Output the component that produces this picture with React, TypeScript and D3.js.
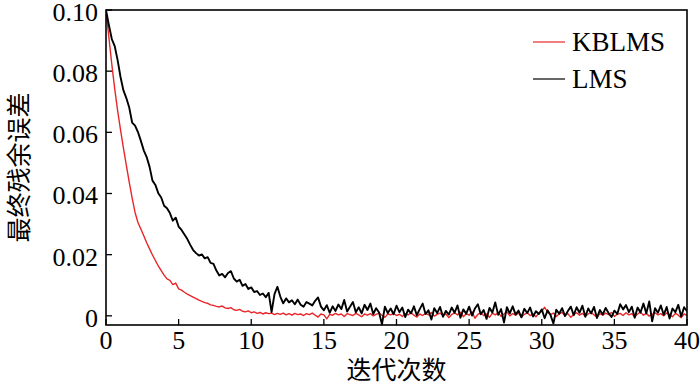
import React from 'react';
import * as d3 from 'd3';

// iteration spacing of the samples (x axis units)
const iterStep = 0.2;

// KBLMS residual error, one value every iterStep
const kblms = [
  0.0997, 0.0910, 0.0822, 0.0742, 0.0671, 0.0608, 0.0548, 0.0492, 0.0437, 0.0385,
  0.0338, 0.0305, 0.0284, 0.0262, 0.0239, 0.0219, 0.0199, 0.0181, 0.0163, 0.0148,
  0.0133, 0.0121, 0.0116, 0.0102, 0.0107, 0.0088, 0.0084, 0.0077, 0.0071, 0.0066,
  0.0061, 0.0056, 0.0051, 0.0047, 0.0043, 0.0041, 0.0036, 0.0034, 0.0031, 0.0029,
  0.0032, 0.0026, 0.0024, 0.0027, 0.0020, 0.0018, 0.0021, 0.0015, 0.0013, 0.0016,
  0.0010, 0.0013, 0.0008, 0.0011, 0.0006, 0.0010, 0.0007, 0.0009, 0.0004, 0.0008,
  0.0005, 0.0009, 0.0003, 0.0007, 0.0002, 0.0008, 0.0004, 0.0006, 0.0001, 0.0007,
  0.0004, 0.0009, 0.0002, -0.0004, 0.0006, 0.0003, -0.0010, 0.0005, 0.0002, 0.0008,
  0.0003, 0.0006, -0.0002, 0.0007, 0.0004, 0.0001, 0.0008, 0.0003, -0.0003, 0.0006,
  0.0002, 0.0007, 0.0000, 0.0005, 0.0009, 0.0002, -0.0005, 0.0006, 0.0003, 0.0008,
  0.0001, 0.0005, -0.0002, 0.0007, 0.0003, 0.0010, 0.0002, -0.0004, 0.0006, 0.0001,
  0.0008, 0.0003, 0.0011, -0.0001, 0.0005, 0.0009, 0.0002, 0.0006, -0.0006, 0.0004,
  0.0010, 0.0003, 0.0012, -0.0003, 0.0007, 0.0002, 0.0013, -0.0008, 0.0005, 0.0010,
  0.0001, 0.0006, -0.0005, 0.0009, 0.0003, 0.0011, -0.0002, 0.0006, 0.0014, 0.0000,
  0.0007, 0.0002, 0.0009, -0.0004, 0.0005, 0.0010, 0.0001, 0.0006, -0.0003, 0.0008,
  0.0015, 0.0028, 0.0012, 0.0004, 0.0009, -0.0002, 0.0006, 0.0011, 0.0001, 0.0007,
  -0.0005, 0.0004, 0.0010, 0.0002, 0.0008, -0.0001, 0.0006, 0.0012, 0.0003, -0.0004,
  0.0007, 0.0002, 0.0009, 0.0004, 0.0011, -0.0002, 0.0005, 0.0008, 0.0001, 0.0010,
  0.0003, 0.0007, -0.0003, 0.0006, 0.0012, 0.0002, 0.0008, -0.0001, 0.0005, 0.0010,
  0.0003, 0.0007, 0.0000, 0.0009, 0.0004, -0.0003, 0.0008, 0.0002, -0.0006, 0.0006,
  0.0001,
];

// LMS residual error, one value every iterStep
const lms = [
  0.1000, 0.0950, 0.0905, 0.0882, 0.0836, 0.0781, 0.0737, 0.0712, 0.0681, 0.0632,
  0.0622, 0.0601, 0.0572, 0.0541, 0.0519, 0.0487, 0.0442, 0.0428, 0.0401, 0.0387,
  0.0360, 0.0352, 0.0336, 0.0311, 0.0321, 0.0292, 0.0281, 0.0266, 0.0251, 0.0232,
  0.0215, 0.0205, 0.0197, 0.0201, 0.0188, 0.0192, 0.0173, 0.0170, 0.0148, 0.0132,
  0.0137, 0.0126, 0.0140, 0.0146, 0.0122, 0.0112, 0.0118, 0.0098, 0.0104, 0.0088,
  0.0093, 0.0078, 0.0081, 0.0068, 0.0073, 0.0061, 0.0075, 0.0012, 0.0071, 0.0095,
  0.0063, 0.0041, 0.0057, 0.0044, 0.0051, 0.0038, 0.0053, 0.0036, 0.0030, 0.0045,
  0.0040, 0.0034, 0.0049, 0.0060, 0.0030, 0.0018, 0.0035, 0.0010, 0.0031, 0.0016,
  0.0037, 0.0022, 0.0052, 0.0014, 0.0030, 0.0045, 0.0012, 0.0028, 0.0008, 0.0036,
  0.0019, 0.0040, 0.0006, 0.0025, 0.0011, -0.0028, 0.0030, 0.0009, 0.0024, 0.0005,
  0.0033, 0.0012, 0.0027, -0.0004, 0.0020, 0.0008, 0.0031, 0.0002, 0.0022, 0.0040,
  0.0006, 0.0018, -0.0012, 0.0025, 0.0009, 0.0029, -0.0003, 0.0016, 0.0004, 0.0027,
  0.0010, 0.0034, -0.0006, 0.0021, 0.0007, 0.0030, 0.0001, 0.0024, 0.0038, 0.0005,
  0.0019, -0.0010, 0.0026, 0.0011, 0.0044, 0.0003, 0.0022, -0.0022, 0.0028, 0.0008,
  0.0031, 0.0004, 0.0017, -0.0005, 0.0023, 0.0009, 0.0027, -0.0002, 0.0015, 0.0006,
  0.0021, -0.0008, 0.0018, 0.0003, -0.0025, 0.0020, 0.0007, 0.0025, -0.0001, 0.0016,
  0.0030, 0.0002, 0.0028, 0.0010, 0.0033, -0.0003, 0.0024, 0.0008, 0.0029, -0.0007,
  0.0019, 0.0004, 0.0026, 0.0009, -0.0004, 0.0017, 0.0006, 0.0038, 0.0021, 0.0035,
  0.0012, 0.0030, -0.0006, 0.0027, 0.0011, 0.0040, 0.0008, 0.0047, -0.0018, 0.0025,
  0.0010, 0.0034, 0.0003, 0.0029, -0.0009, 0.0024, 0.0012, 0.0036, -0.0002, 0.0028,
  0.0015,
];

const xTicks = [0, 5, 10, 15, 20, 25, 30, 35, 40];
const yTicks = [0, 0.02, 0.04, 0.06, 0.08, 0.1];
const yTickLabels = ['0', '0.02', '0.04', '0.06', '0.08', '0.10'];
const seriesNames = ['KBLMS', 'LMS'];
const seriesColors = ['#e8262a', '#000000'];
const xTitle = '迭代次数';
const yTitle = '最终残余误差';

const W = 700;
const H = 387;
const margin = { top: 10, right: 13, bottom: 62, left: 106 };
const serif = "'Liberation Serif', 'Times New Roman', serif";
const cjk = "'Noto Sans CJK SC', sans-serif";

export default function App() {
  const x = d3.scaleLinear().domain([0, 40]).range([margin.left, W - margin.right]);
  const y = d3.scaleLinear().domain([-0.003, 0.1]).range([H - margin.bottom, margin.top]);
  const line = d3.line<number>()
    .x((_, i) => x(i * iterStep))
    .y(d => y(d));

  const x0 = margin.left;
  const x1 = W - margin.right;
  const y0 = H - margin.bottom;
  const y1 = margin.top;

  return (
    <svg width={W} height={H} style={{ position: 'absolute', left: 0, top: 0, background: '#fff' }}>
      <defs>
        <clipPath id="plot">
          <rect x={x0} y={y1} width={x1 - x0} height={y0 - y1} />
        </clipPath>
      </defs>

      <g clipPath="url(#plot)" fill="none" strokeLinejoin="round">
        <path d={line(kblms) || ''} stroke={seriesColors[0]} strokeWidth={1.4} />
        <path d={line(lms) || ''} stroke={seriesColors[1]} strokeWidth={1.9} />
      </g>

      {/* frame */}
      <rect x={x0} y={y1} width={x1 - x0} height={y0 - y1} fill="none" stroke="#000" strokeWidth={1.6} />

      {/* y ticks, inward */}
      {yTicks.map((t, i) => (
        <g key={'y' + i}>
          <line x1={x0} x2={x0 + 6} y1={y(t)} y2={y(t)} stroke="#000" strokeWidth={1.3} />
          <text x={x0 - 8} y={y(t)} dy="0.42em" textAnchor="end" fontFamily={serif} fontSize={26}>
            {yTickLabels[i]}
          </text>
        </g>
      ))}

      {/* x ticks, inward */}
      {xTicks.map(t => (
        <g key={'x' + t}>
          <line x1={x(t)} x2={x(t)} y1={y0} y2={y0 - 6} stroke="#000" strokeWidth={1.3} />
          <text x={x(t)} y={y0 + 24} textAnchor="middle" fontFamily={serif} fontSize={26}>
            {t}
          </text>
        </g>
      ))}

      <text x={(x0 + x1) / 2} y={379} textAnchor="middle" fontFamily={cjk} fontSize={25}>
        {xTitle}
      </text>
      <text
        transform={`translate(17, ${(y0 + y1) / 2}) rotate(-90)`}
        textAnchor="middle"
        dominantBaseline="central"
        fontFamily={cjk}
        fontSize={25}
      >
        {yTitle}
      </text>

      {/* legend */}
      {seriesNames.map((name, i) => (
        <g key={name} transform={`translate(533, ${42 + i * 37})`}>
          <line x1={0} x2={32} y1={0} y2={0} stroke={seriesColors[i]} strokeWidth={1.2} />
          <text x={39} y={0} dy="0.35em" fontFamily={serif} fontSize={27}>
            {name}
          </text>
        </g>
      ))}
    </svg>
  );
}
